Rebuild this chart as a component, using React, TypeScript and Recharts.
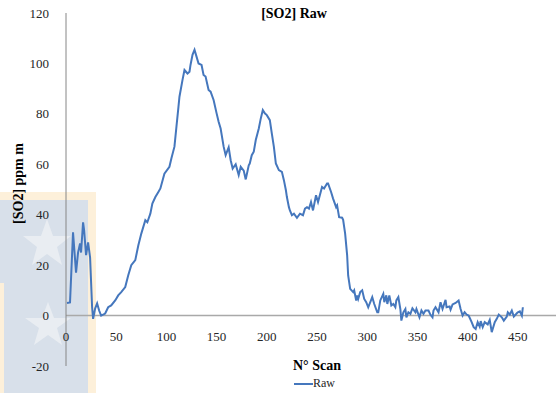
import React from 'react'
import { LineChart, Line, XAxis, YAxis, ReferenceLine } from 'recharts'

// N° scan / [SO2] ppm m
const scans = [
  1, 4, 7, 10, 12, 14, 15, 17, 18, 20, 22, 24, 26, 27, 29, 31, 33, 35, 39, 42,
  45, 49, 52, 55, 59, 62, 65, 69, 72, 75, 79, 81, 84, 86, 89, 92, 94, 98, 103, 105,
  108, 110, 112, 113, 116, 118, 121, 123, 124, 126, 128, 130, 132, 135, 137, 139, 142, 144, 147, 150,
  152, 154, 157, 159, 162, 164, 166, 169, 172, 174, 177, 179, 182, 183, 185, 187, 189, 192, 194, 196,
  198, 200, 203, 205, 207, 209, 212, 215, 217, 219, 220, 222, 223, 225, 227, 230, 233, 236, 238, 240,
  242, 244, 246, 249, 251, 255, 257, 260, 261, 264, 266, 269, 270, 272, 275, 276, 278, 280, 281, 283,
  286, 287, 289, 290, 291, 293, 295, 297, 299, 301, 305, 307, 310, 311, 313, 316, 317, 319, 320, 322,
  324, 326, 328, 329, 331, 333, 334, 336, 338, 339, 341, 343, 345, 348, 349, 352, 354, 356, 358, 361,
  363, 365, 366, 368, 371, 373, 375, 378, 379, 382, 383, 385, 388, 391, 393, 395, 397, 399, 401, 404,
  406, 408, 410, 412, 413, 415, 417, 420, 422, 424, 427, 429, 431, 434, 436, 439, 440, 442, 444, 446,
  449, 450, 452, 454, 455,
]
const so2 = [
  5, 5.2, 33, 17, 25, 28.6, 25, 37, 34, 24, 29, 23, 3.3, -1.3, 2.8, 4.8, 2, 0, 0.8, 3.3,
  4, 6, 8, 9.3, 11.3, 16, 20, 22, 27.8, 32.5, 37.8, 37, 40.4, 44.4, 47, 49, 50.4, 56.3, 59, 62.4,
  67, 74.9, 82.8, 86.8, 93.4, 97.4, 96, 96.7, 99.4, 103.4, 105.4, 102.7, 100, 99.4, 95.4, 94.8, 89.5, 88.8, 85.5, 80.2,
  76.9, 74.2, 67, 63.6, 66.7, 61.6, 58.3, 60, 55.7, 59, 57.5, 54, 59.6, 60.3, 63.6, 65, 69.6, 74.2, 78.2, 81.5,
  80.2, 79.5, 77.5, 72.2, 67, 60.3, 57.7, 57, 53.7, 49.7, 47, 43, 41.7, 39.8, 40.4, 38.8, 40.4, 39.8, 42.4, 43,
  42.4, 45, 41.7, 47.7, 45, 51, 50.4, 52.4, 52.4, 49, 46.4, 43, 43.7, 39, 38.8, 38, 32.5, 23.9, 15.9, 10.6,
  9.3, 10, 6, 8, 6.6, 9.3, 10, 6.6, 5.3, 3.3, 7.3, 4.6, 1.3, 1.3, 6, 8.6, 5.3, 8, 4.6, 8,
  4, 4.6, 3.3, 6, 7.3, 2.6, -2, 1.3, 2.6, -0.7, 1.3, 0.7, 2.9, 1.3, 2.6, -0.7, 2, 0.7, 2, 2,
  0.3, -0.7, 2, 3.3, 1.3, 5.3, 2.6, 6.2, 3.3, 3.6, 2.3, 4.4, 5, 6, 2.6, 0, 1.3, 0.4, 0, -2.6,
  -4.6, -5.3, -2.6, -4.4, -2.2, -4.6, -2.6, -3.5, -1.7, -6.6, -2.6, -1.3, 0.4, -0.7, -2, -0.4, 1.3, 0.4, 2, -0.4,
  0.9, 1.3, 1.7, 0, 3.3,
]
const xTicks = [0, 50, 100, 150, 200, 250, 300, 350, 400, 450]
const yTicks = [-20, 0, 20, 40, 60, 80, 100, 120]

const data = scans.map((s, i) => ({ scan: s, raw: so2[i] }))

const serif = '"Liberation Serif", "Times New Roman", serif'
const lineColor = '#4577bd'

const Watermark = () => (
  <svg width={558} height={393} style={{ position: 'absolute', left: 0, top: 0 }}>
    <rect x={0} y={192} width={96} height={201} fill="#fdf0da" />
    <rect x={0} y={200} width={88} height={193} fill="#d8e0ea" />
    <rect x={0} y={283} width={4} height={110} fill="#fdf0da" />
    <polygon
      points="47,219 53,236 71,236 57,247 62,265 47,254 32,265 37,247 23,236 41,236"
      fill="#e9edf2"
    />
    <polygon
      points="48,302 54,318 71,318 57,328 62,345 48,335 34,345 39,328 25,318 42,318"
      fill="#e9edf2"
    />
  </svg>
)

const XTick = (props: any) => {
  const { x, y, payload } = props
  return (
    <text x={x} y={y} dy={-25} textAnchor="middle" fontFamily={serif} fontSize={13} fill="#262626">
      {payload.value}
    </text>
  )
}

export default function App() {
  return (
    <div style={{ position: 'absolute', left: 0, top: 0, width: 558, height: 393, background: '#fff' }}>
      <Watermark />
      <div
        style={{
          position: 'absolute',
          left: 0,
          top: 6,
          width: 588,
          textAlign: 'center',
          fontFamily: serif,
          fontWeight: 'bold',
          fontSize: 14,
          color: '#000',
        }}
      >
        [SO2] Raw
      </div>
      <div style={{ position: 'absolute', left: 0, top: 0 }}>
        <LineChart width={558} height={393} data={data} margin={{ top: 13, right: 2, left: 0, bottom: 0 }}>
          <XAxis
            dataKey="scan"
            type="number"
            domain={[0, 488]}
            ticks={xTicks}
            axisLine={false}
            tickLine={false}
            tickSize={0}
            tickMargin={0}
            height={27}
            tick={<XTick />}
            label={{
              content: ({ viewBox }: any) => (
                <text
                  x={viewBox.x + viewBox.width / 2 + 6}
                  y={viewBox.y + 4}
                  textAnchor="middle"
                  fontFamily={serif}
                  fontWeight="bold"
                  fontSize={14}
                  fill="#000"
                >
                  N° Scan
                </text>
              ),
            }}
          />
          <YAxis
            type="number"
            domain={[-20, 120]}
            ticks={yTicks}
            width={66}
            axisLine={{ stroke: '#868686', strokeWidth: 1 }}
            tickLine={false}
            tickMargin={11}
            tick={{ fontFamily: serif, fontSize: 13, fill: '#262626' }}
            label={{
              content: ({ viewBox }: any) => {
                const cx = 18
                const cy = viewBox.y + viewBox.height / 2 - 6
                return (
                  <text
                    x={cx}
                    y={cy}
                    transform={`rotate(-90, ${cx}, ${cy})`}
                    textAnchor="middle"
                    dominantBaseline="central"
                    fontFamily={serif}
                    fontWeight="bold"
                    fontSize={14}
                    fill="#000"
                  >
                    [SO2] ppm m
                  </text>
                )
              },
            }}
          />
          <ReferenceLine y={0} stroke="#a9a9a9" strokeWidth={1.5} />
          <Line
            type="linear"
            dataKey="raw"
            name="Raw"
            stroke={lineColor}
            strokeWidth={2}
            dot={false}
            isAnimationActive={false}
          />
        </LineChart>
      </div>
      <div
        style={{
          position: 'absolute',
          left: 294,
          top: 376,
          display: 'flex',
          alignItems: 'center',
          fontFamily: serif,
          fontSize: 12,
          color: '#262626',
        }}
      >
        <span style={{ display: 'inline-block', width: 19, height: 2, background: lineColor }} />
        <span>Raw</span>
      </div>
    </div>
  )
}
